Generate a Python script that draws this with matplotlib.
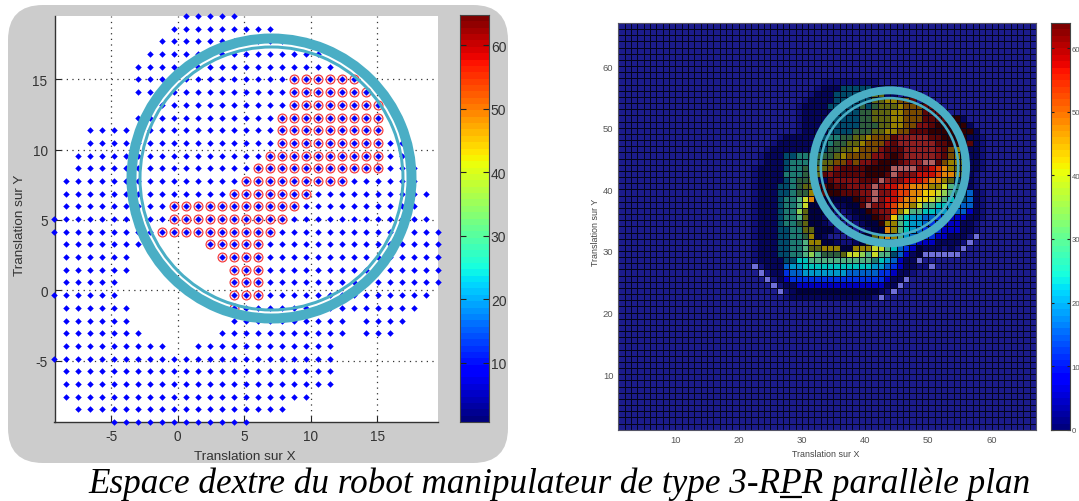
import numpy as np
import matplotlib
matplotlib.use("Agg")
import matplotlib.pyplot as plt
from matplotlib.colors import ListedColormap, BoundaryNorm
from matplotlib.patches import FancyBboxPatch, Annulus

W, H = 1079, 502
plt.rcParams['font.family'] = ['Liberation Sans', 'DejaVu Sans']
plt.rcParams['axes.unicode_minus'] = False

# ---------- left chart data: grid rows (top to bottom) and column ranges
GRID_STEP = 0.9
GRID_X0 = -9.26
GRID_Y_TOP = 19.47
BLUE_RANGES = [
    [(11, 15)], [(10, 18)], [(9, 20)], [(8, 22)], [(7, 23)], [(7, 25)], [(7, 26)], [(8, 27)],
    [(7, 27)], [(3, 27)], [(3, 29)], [(2, 29)], [(2, 30)], [(1, 30)], [(1, 31)], [(1, 30)],
    [(0, 31)], [(0, 32)], [(1, 7), (13, 32)], [(1, 6), (14, 32)], [(1, 6), (15, 32)],
    [(1, 5), (15, 32)], [(0, 5), (15, 31)], [(1, 6), (15, 30)], [(1, 6), (15, 24), (26, 29)],
    [(1, 7), (14, 24), (26, 28)], [(1, 9), (12, 23)], [(0, 23)], [(1, 23)], [(1, 23)],
    [(1, 21)], [(2, 19)], [(5, 16)],
]
RED_RANGES = {
    5: (20, 25), 6: (20, 26), 7: (20, 27), 8: (19, 27), 9: (19, 27), 10: (19, 27), 11: (18, 27),
    12: (17, 27), 13: (16, 24), 14: (15, 21), 15: (10, 20), 16: (10, 19), 17: (9, 18),
    18: (13, 17), 19: (14, 17), 20: (15, 17), 21: (15, 17), 22: (15, 17), 23: (15, 15),
}
LEFT_XTICKS = [-5, 0, 5, 10, 15]
LEFT_YTICKS = [-5, 0, 5, 10, 15]
LEFT_CBAR_TICKS = [10, 20, 30, 40, 50, 60]
LEFT_CBAR_RANGE = (0.74, 64.8)

# ---------- right chart data: palette codes, row number from the top, first column, cells
PALETTE = {
    '.': '#1c1c8c', 'a': '#10107a', 'b': '#05055a', 'c': '#000040', 'd': '#0000c0',
    'e': '#0030e0', 'f': '#0060c8', 'g': '#0098c8', 'h': '#00c0b8', 'i': '#004a6a',
    'j': '#1e7a70', 'k': '#50b080', 'l': '#90d050', 'm': '#c8d828', 'n': '#5e6410',
    'o': '#784a00', 'p': '#e8c808', 'q': '#e08408', 'r': '#dc4006', 's': '#c41006',
    't': '#7e1010', 'u': '#5a0606', 'v': '#320000', 'w': '#8c2020', 'x': '#b06060',
    'y': '#968000', 'z': '#2e5e3c', 'X': '#7070d8',
}
HEAT_FIRST_COL = 18
HEAT_ROWS = [
    (9, 14, "aaaaaaaaa"),
    (10, 13, "abbbiiiiibba"),
    (11, 12, "abbbiiiiiinnbb"),
    (12, 11, "abbbbiiiiiinnyyoou"),
    (13, 10, "abbbbiiiiiziznnnyooouu"),
    (14, 10, "abbbbbiiiizznnnyyooouuuu"),
    (15, 10, "abbbbbiiiizznnnyyooouuuuvvb"),
    (16, 10, "abbbbiiiiizzznnyyoottuvvvvvb"),
    (17, 10, "abbbbiiiizzznnyyoouuuvvvvvvvb"),
    (18, 7, "abbbbbiijjzznnyooouwwwwwuuvvvvbba"),
    (19, 6, "abbbbbbiijzznnyoootuwwwwwwuuvvvuba"),
    (20, 5, "abbbbbbbiizznnyoootuuuwwwwwtuoynbba"),
    (21, 4, "abbbiijjzzzznyoooottuvuwwwwwtuoynbba"),
    (22, 4, "abbbijjjzznnootottuvvvutwwxxuoyynbba"),
    (23, 3, "abbbbijjzznnotuuuuvvvvxxxxttsrqynnbba"),
    (24, 3, "abbbbjjjznnutuuuuuvvvuxtttsssrqqynba"),
    (25, 3, "abbbbijzznbbuttttuuuxwttsssrqqynibba"),
    (26, 3, "abbbiijznnuuvuuttttxtssrrqqqyymkjiba"),
    (27, 3, "abbbiijzzyuuvvuuuttxttsrrqqppmlkjifba"),
    (28, 3, "abbbijjkmqccccccvutxtssrqqppmlkhiifba"),
    (29, 3, "abbbijjkmcccbbbccuxttsrqqymkkhhggffba"),
    (30, 3, "abbbijjlncccbaabccvuttrymkkhhggfffdba"),
    (31, 3, "abbbijjknccba..abccvutpkhggffeedddbba"),
    (32, 3, "abbbijjznccba...abccvyykhggfeedddbba"),
    (33, 3, "abbbiijjnnccca...abccqykhgfeeedddbba"),
    (34, 3, "abbbiijjzycb....abcnyqykgfeeeddbbbaX"),
    (35, 3, "abbbiijjkyyccbaabcnyyokhfedddbbbbaX"),
    (36, 3, "abbbiijjknnyyyccyyymmkhfedcbbbabaX"),
    (37, 3, "abbbiijjklkzzznmmlkmkkifdbcXXXXXX"),
    (38, 3, "abbbbiihhkkkkkkkkkkjhgfdbbX"),
    (39, 3, "XabbbfgghhhhhhhhhhhggfedbbaaX"),
    (40, 4, "Xabbeffgggggggfffffeedbba"),
    (41, 5, "XabdeeeeeeeeeeeeeeedbbX"),
    (42, 6, "XabbddddddddddddddbbX"),
    (43, 7, "XabcccccccccccccbaX"),
    (44, 8, "abbbbbbbbbbbbbaX"),
]
HEAT_SIZE = 66
RIGHT_TICKS = [10, 20, 30, 40, 50, 60]
RIGHT_CBAR_TICKS = [0, 10, 20, 30, 40, 50, 60]
RIGHT_CBAR_RANGE = (0, 63.9)

CAPTION = "Espace dextre du robot manipulateur de type 3-RPR parallèle plan"
LABEL_X = "Translation sur X"
LABEL_Y = "Translation sur Y"

RING_COLOR = '#4aaec5'
PANEL_COLOR = '#cccccc'


def px_axes(fig, left, top, right, bottom, **kw):
    return fig.add_axes([left / W, 1 - bottom / H, (right - left) / W, (bottom - top) / H], **kw)


def px_text(fig, x, y, s, **kw):
    return fig.text(x / W, 1 - y / H, s, **kw)


def colorbar(fig, box, vrange, ticks, fs, tc, tl, pad):
    cax = px_axes(fig, *box)
    levels = np.arange(64)[:, None]
    cax.imshow(levels, cmap='jet', aspect='auto', origin='lower',
               extent=[0, 1, vrange[0], vrange[1]], interpolation='nearest')
    cax.set_ylim(*vrange)
    cax.set_xticks([])
    cax.yaxis.tick_right()
    cax.set_yticks(ticks)
    cax.tick_params(axis='y', direction='in', length=tl, width=0.8, color='#222222',
                    labelsize=fs, labelcolor=tc, pad=pad, left=True, right=True)
    for s in cax.spines.values():
        s.set_color('#444444')
        s.set_linewidth(0.8)
    return cax


fig = plt.figure(figsize=(W / 100, H / 100), dpi=100, facecolor='white')

# panel behind left chart
bg = fig.add_axes([0, 0, 1, 1], zorder=0)
bg.set_xlim(0, W)
bg.set_ylim(H, 0)
bg.axis('off')
bg.add_patch(FancyBboxPatch((8 + 35, 6 + 35), 500 - 70, 458 - 70,
                            boxstyle="round,pad=35,rounding_size=35",
                            fc=PANEL_COLOR, ec='none'))

# ---------- left scatter
ax = px_axes(fig, 54.5, 17, 438, 423, zorder=1)
ax.set_facecolor('white')
ax.set_xlim(-9.26, 19.57)
ax.set_ylim(-9.33, 19.47)
ax.grid(True, linestyle=(0, (1, 3.5)), color='#333333', linewidth=0.9)
ax.set_axisbelow(True)
ax.set_xticks(LEFT_XTICKS)
ax.set_yticks(LEFT_YTICKS)
ax.tick_params(direction='in', length=4, width=0.8, color='#222222',
               labelsize=9.8, labelcolor='#333333', pad=5)
ax.spines['top'].set_visible(False)
ax.spines['right'].set_visible(False)
for s in ('left', 'bottom'):
    ax.spines[s].set_color('#333333')
    ax.spines[s].set_linewidth(1.0)

bx, by = [], []
for r, spans in enumerate(BLUE_RANGES):
    for a, b in spans:
        for c in range(a, b + 1):
            bx.append(GRID_X0 + GRID_STEP * c)
            by.append(GRID_Y_TOP - GRID_STEP * r)
rx, ry = [], []
for r, (a, b) in RED_RANGES.items():
    for c in range(a, b + 1):
        rx.append(GRID_X0 + GRID_STEP * c)
        ry.append(GRID_Y_TOP - GRID_STEP * r)
ax.plot(rx, ry, 'o', mfc='#f8e4ea', mec='#f43030', mew=0.8, ms=6.4, clip_on=False, zorder=3)
ax.plot(bx, by, 'D', color='#0000ff', ms=3.3, mew=0, clip_on=False, zorder=4)

px_text(fig, 245, 457, LABEL_X, ha='center', va='center', fontsize=9.7, color='#333333')
px_text(fig, 20, 225, LABEL_Y, ha='center', va='center', rotation=90, fontsize=9.7, color='#333333')

colorbar(fig, (460, 16, 488.7, 422.7), LEFT_CBAR_RANGE, LEFT_CBAR_TICKS, 10, '#333333', 4.5, 1.5)

# ---------- right heat map
codes = list(PALETTE)
cell = np.zeros((HEAT_SIZE, HEAT_SIZE), dtype=int)
for row, first, text in HEAT_ROWS:
    for k, ch in enumerate(text):
        cell[HEAT_SIZE - 1 - row, HEAT_FIRST_COL + first + k] = codes.index(ch)

ax2 = px_axes(fig, 618.3, 24, 1036, 430.7, zorder=1)
edges = np.arange(1, HEAT_SIZE + 2)
ax2.pcolormesh(edges, edges, cell, cmap=ListedColormap([PALETTE[c] for c in codes]),
               norm=BoundaryNorm(np.arange(len(codes) + 1) - 0.5, len(codes)))
ax2.vlines(edges, 1, HEAT_SIZE + 1, color='#04041a', linewidth=0.72)
ax2.hlines(edges, 1, HEAT_SIZE + 1, color='#04041a', linewidth=0.72)
ax2.set_xlim(1, 67)
ax2.set_ylim(1, 67)
ax2.set_xticks(RIGHT_TICKS)
ax2.set_yticks(RIGHT_TICKS)
ax2.tick_params(direction='in', length=3, width=0.6, color='#101020',
                labelsize=6.8, labelcolor='#555555', pad=3.5)
for s in ax2.spines.values():
    s.set_color('#555566')
    s.set_linewidth(0.8)
px_text(fig, 826, 455, LABEL_X, ha='center', va='center', fontsize=6.4, color='#444444')
px_text(fig, 596, 232, LABEL_Y, ha='center', va='center', rotation=90, fontsize=6.4, color='#444444')

colorbar(fig, (1051.3, 24.3, 1070.3, 430.7), RIGHT_CBAR_RANGE, RIGHT_CBAR_TICKS, 5.6, '#555555', 2.5, 0.8)

# ---------- rings and caption overlay
ov = fig.add_axes([0, 0, 1, 1], zorder=5)
ov.set_xlim(0, W)
ov.set_ylim(H, 0)
ov.axis('off')
ov.patch.set_alpha(0)
for (cx, cy), rings in [((271.5, 179.5), [(145, 10), (133, 3)]),
                        ((889.5, 167.8), [(80.5, 8), (70, 2.6)])]:
    for r, w in rings:
        ov.add_patch(Annulus((cx, cy), r, w, fc=RING_COLOR, ec='none'))

cap_kw = dict(family=['Liberation Serif', 'DejaVu Serif'], style='italic', fontsize=25.3,
              color='black', va='baseline', ha='left')
cap = ov.text(88, 493, CAPTION, **cap_kw)
fig.canvas.draw()
rend = fig.canvas.get_renderer()


def prefix_width(s):
    t = ov.text(0, 0, s, **cap_kw)
    w_ = t.get_window_extent(rend).width
    t.remove()
    return w_


head = CAPTION[:CAPTION.index("RPR") + 1]
x0 = 88 + prefix_width(head)
x1 = 88 + prefix_width(head + "P")
ov.plot([x0, x1], [498, 498], color='black', lw=1.6, solid_capstyle='butt')

fig.savefig("out.png", dpi=100, facecolor='white')
